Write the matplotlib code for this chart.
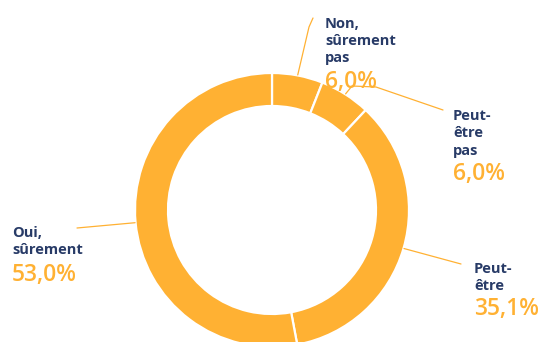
import numpy as np
import matplotlib
matplotlib.use('Agg')
import matplotlib.pyplot as plt

labels = ["Non,\nsûrement\npas", "Peut-\nêtre\npas", "Peut-\nêtre", "Oui,\nsûrement"]
values = [6.0, 6.0, 35.1, 53.0]
pct_text = ["6,0%", "6,0%", "35,1%", "53,0%"]

orange = '#FFB133'
navy = '#283B67'

W, H = 539, 342
fig = plt.figure(figsize=(W / 100, H / 100), dpi=100)
ax = fig.add_axes([0, 0, 1, 1])

# ring geometry in pixels (y measured from the top)
cx, cy, R, ring = 272, 210, 137, 33

ax.pie(values, startangle=90, counterclock=False, colors=[orange] * len(values),
       radius=R, center=(cx, H - cy),
       wedgeprops=dict(width=ring, edgecolor='white', linewidth=1.6))
ax.set_xlim(0, W)
ax.set_ylim(0, H)
ax.set_aspect('equal')
ax.axis('off')

# label placement: (x, first baseline, percent baseline), leader path after ring point
label_pos = [(325, 27.5, 88), (453, 120, 180), (474, 273, 315), (12, 237, 281)]
leaders = [
    [(309, 27), (313, 18)],
    [(352, 86), (376, 87), (443, 110)],
    [(461, 264)],
    [(77, 228)],
]

total = sum(values)
cum = np.cumsum([0] + values[:-1])
for i, v in enumerate(values):
    mid = (cum[i] + v / 2) / total * 2 * np.pi
    sx = cx + (R + 0.5) * np.sin(mid)
    sy = cy - (R + 0.5) * np.cos(mid)
    pts = [(sx, sy)] + leaders[i]
    xs = [p[0] for p in pts]
    ys = [H - p[1] for p in pts]
    ax.plot(xs, ys, color=orange, lw=0.9, zorder=1, solid_capstyle='round')

    x, base, pbase = label_pos[i]
    for j, line in enumerate(labels[i].split('\n')):
        ax.text(x, H - (base + 17.3 * j), line, fontsize=10.5, fontweight='bold',
                family='Open Sans', color=navy, va='baseline', ha='left', zorder=3)
    ax.text(x, H - pbase, pct_text[i], fontsize=16.5, fontweight='semibold',
            family='Open Sans', color=orange, va='baseline', ha='left', zorder=3)

fig.savefig('out.png', dpi=100)
